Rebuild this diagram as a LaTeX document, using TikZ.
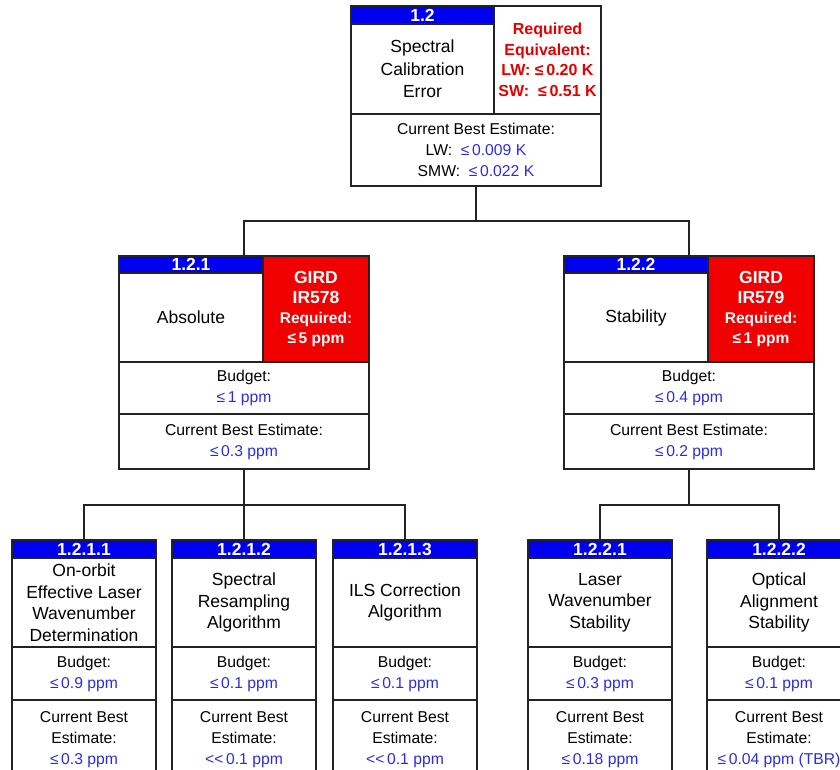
\documentclass[tikz,border=0pt]{standalone}
\usepackage{fontspec}
\setmainfont{Liberation Sans}
\definecolor{hdblue}{RGB}{0,0,240}
\definecolor{reqred}{RGB}{240,0,0}
\definecolor{valblue}{RGB}{45,45,215}
\definecolor{reqtxt}{RGB}{228,0,0}
\definecolor{edge}{RGB}{35,35,35}
\newcommand{\bv}[1]{\textcolor{valblue}{#1}}
\newcommand{\bigreq}{\fontsize{17.5}{22}\selectfont}
\tikzset{
  sec/.style={draw=edge, line width=1.5pt, inner sep=0pt, outer sep=0pt,
    anchor=north west, align=center},
  frame/.style={sec},
  hdr/.style={sec, fill=hdblue, text=white, font=\fontsize{17.5}{18}\selectfont\bfseries},
  ttl/.style={sec, font=\fontsize{17.5}{22.5}\selectfont},
  req/.style={sec, fill=reqred, text=white, font=\fontsize{15.5}{20}\selectfont\bfseries},
  val/.style={sec, font=\fontsize{15.7}{21}\selectfont},
  link/.style={draw=edge, line width=1.5pt},
}
\begin{document}
\begin{tikzpicture}[x=1pt, y=-1pt]
  \useasboundingbox (0,0) rectangle (840,769);
  \clip (0,0) rectangle (840,769);
  % 1.2
  \node[frame, minimum width=250, minimum height=180] (b12) at (351,6) {};
  \node[ttl, minimum width=143, minimum height=90] (t12) at (351,24) {Spectral\\Calibration\\Error};
  \node[hdr, minimum width=143, minimum height=18] (hd12) at (351,6) {1.2};
  \node[sec, minimum width=107, minimum height=108, text=reqtxt,
    font=\fontsize{16}{20.5}\selectfont\bfseries] (r12) at (494,6)
    {Required\\Equivalent:\\LW: ≤\,0.20 K\\SW:\ \ ≤\,0.51 K};
  \node[val, minimum width=250, minimum height=72] (e12) at (351,114)
    {Current Best Estimate:\\LW:\ \ \bv{≤\,0.009 K}\\SMW:\ \ \bv{≤\,0.022 K}};
  % 1.2.1 and 1.2.2
  \foreach \nm/\x/\num/\ttl/\ir/\rq/\bud/\est in {
    121/119/1.2.1/Absolute/IR578/5 ppm/1 ppm/0.3 ppm,
    122/564/1.2.2/Stability/IR579/1 ppm/0.4 ppm/0.2 ppm}{
    \node[frame, minimum width=250, minimum height=213] (b\nm) at (\x,256) {};
    \node[ttl, minimum width=144, minimum height=89] (t\nm) at (\x,273) {\ttl};
    \node[hdr, minimum width=144, minimum height=17] (hd\nm) at (\x,256) {\num};
    \node[req, minimum width=106, minimum height=106] (r\nm) at (\x+144,256)
      {{\bigreq GIRD}\\{\bigreq \ir}\\Required:\\≤\,\rq};
    \node[val, minimum width=250, minimum height=52] (u\nm) at (\x,362)
      {Budget:\\\bv{≤\,\bud}};
    \node[val, minimum width=250, minimum height=55] (e\nm) at (\x,414)
      {Current Best Estimate:\\\bv{≤\,\est}};
  }
  % lower level
  \foreach \nm/\x/\num/\ttl/\bud/\est in {
    1211/12/1.2.1.1/{On-orbit\\Effective Laser\\Wavenumber\\Determination}/{≤\,0.9 ppm}/{≤\,0.3 ppm},
    1212/172/1.2.1.2/{Spectral\\Resampling\\Algorithm}/{≤\,0.1 ppm}/{<{}<\,0.1 ppm},
    1213/333/1.2.1.3/{ILS Correction\\Algorithm}/{≤\,0.1 ppm}/{<{}<\,0.1 ppm},
    1221/528/1.2.2.1/{Laser\\Wavenumber\\Stability}/{≤\,0.3 ppm}/{≤\,0.18 ppm},
    1222/707/1.2.2.2/{Optical\\Alignment\\Stability}/{≤\,0.1 ppm}/{≤\,0.04 ppm (TBR)}}{
    \node[frame, minimum width=144, minimum height=238] (b\nm) at (\x,540) {};
    \node[hdr, minimum width=144, minimum height=18] (hd\nm) at (\x,540) {\num};
    \node[ttl, minimum width=144, minimum height=89, font=\fontsize{17.5}{21.5}\selectfont]
      (t\nm) at (\x,558) {\ttl};
    \node[val, minimum width=144, minimum height=53] (u\nm) at (\x,647)
      {Budget:\\\bv{\bud}};
    \node[val, minimum width=144, minimum height=80] (e\nm) at (\x,700)
      {Current Best\\Estimate:\\\bv{\est}};
  }
  % connectors
  \foreach \c in {121,122}
    \draw[link] (b12.south) -- ++(0,35) -| (b\c.north);
  \foreach \c in {1211,1212,1213}
    \draw[link] (b121.south) -- ++(0,36) -| (b\c.north);
  \foreach \c in {1221,1222}
    \draw[link] (b122.south) -- ++(0,36) -| (b\c.north);
\end{tikzpicture}
\end{document}
